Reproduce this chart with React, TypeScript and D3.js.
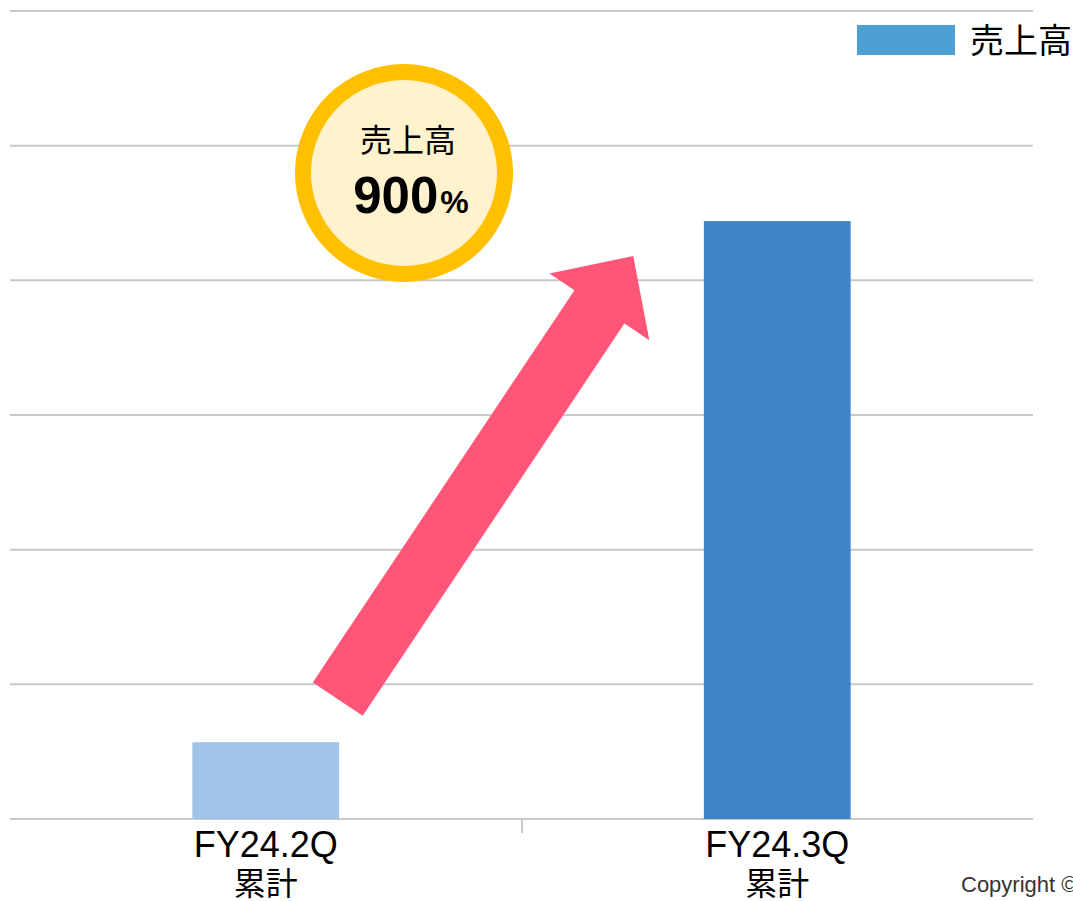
import React from "react";
import * as d3 from "d3";

const categories = ["FY24.2Q", "FY24.3Q"];
const categorySub = ["累計", "累計"];
const salesValues = [5.7, 44.4];
const barColors = ["#A0C4E8", "#3F84C6"];
const yTicks = [0, 10, 20, 30, 40, 50, 60];
const seriesName = "売上高";
const badgeLabel = "売上高";
const badgeValue = "900";

const W = 1073;
const H = 901;
const FONT = "'Liberation Sans', Arial, 'Noto Sans CJK JP', sans-serif";

export default function App() {
  const x = d3.scaleBand<string>().domain(categories).range([10, 1033]).padding(0);
  const y = d3.scaleLinear().domain([0, 60]).range([819, 11]);
  const barW = x.bandwidth() * 0.287;

  // arrow geometry (annotation) built from the scales
  const bx = (x(categories[0]) as number) + x.bandwidth() / 2 + 72;
  const by = y(8.9);
  const tx = (x(categories[1]) as number) + x.bandwidth() / 2 - 144;
  const ty = y(41.8);
  const dx = tx - bx, dy = ty - by;
  const L = Math.hypot(dx, dy);
  const ux = dx / L, uy = dy / L;
  const nx = -uy, ny = ux;
  const shaftHW = 30, headHW = 60, headL = 61;
  const hbx = tx - ux * headL, hby = ty - uy * headL;
  const pts: [number, number][] = [
    [bx - nx * shaftHW, by - ny * shaftHW],
    [hbx - nx * shaftHW, hby - ny * shaftHW],
    [hbx - nx * headHW, hby - ny * headHW],
    [tx, ty],
    [hbx + nx * headHW, hby + ny * headHW],
    [hbx + nx * shaftHW, hby + ny * shaftHW],
    [bx + nx * shaftHW, by + ny * shaftHW],
  ];
  const arrowPath = d3.line()(pts) + "Z";

  const cx = 404, cy = 173;

  return (
    <svg width={W} height={H} style={{ position: "absolute", left: 0, top: 0, background: "#fff" }} fontFamily={FONT}>
      {yTicks.map((t) => (
        <line key={t} x1={10} x2={1033} y1={y(t)} y2={y(t)} stroke="#C8C8C8" strokeWidth={2} />
      ))}
      <line x1={522} x2={522} y1={y(0)} y2={y(0) + 14} stroke="#C8C8C8" strokeWidth={2} />
      {categories.map((c, i) => {
        const cxb = (x(c) as number) + x.bandwidth() / 2;
        return (
          <g key={c}>
            <rect x={cxb - barW / 2} y={y(salesValues[i])} width={barW} height={y(0) - y(salesValues[i])} fill={barColors[i]} />
            <text x={cxb} y={857} textAnchor="middle" fontSize={36} fill="#000">{c}</text>
            <text x={cxb} y={895} textAnchor="middle" fontSize={32} fill="#000">{categorySub[i]}</text>
          </g>
        );
      })}
      <path d={arrowPath} fill="#FF5577" />
      <circle cx={cx} cy={cy} r={101} fill="#FFF2CC" stroke="#FFC000" strokeWidth={16} />
      <text x={cx + 4} y={152} textAnchor="middle" fontSize={32} fill="#000">{badgeLabel}</text>
      <text x={cx + 7} y={213} textAnchor="middle" fontWeight="bold" fill="#000">
        <tspan fontSize={51}>{badgeValue}</tspan>
        <tspan fontSize={32} dx={2}>%</tspan>
      </text>
      <rect x={857} y={25} width={98} height={30} fill="#4FA0D2" />
      <text x={970} y={53} fontSize={34} fill="#000">{seriesName}</text>
      <text x={961} y={892} fontSize={22} fill="#333">Copyright ©</text>
    </svg>
  );
}
